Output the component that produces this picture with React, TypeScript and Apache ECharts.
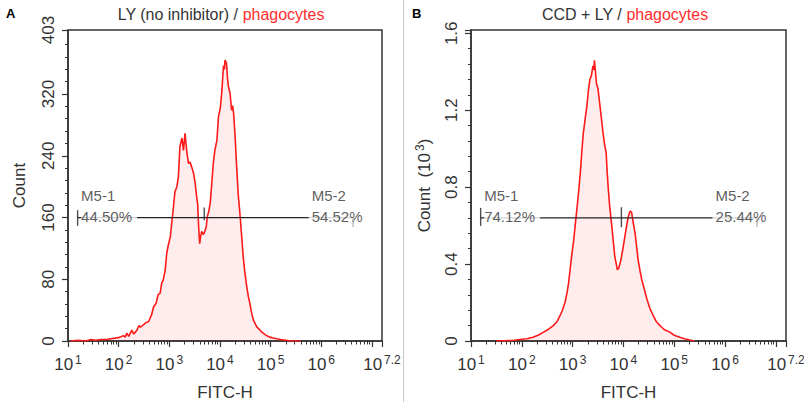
import React, { useEffect, useRef } from 'react';
import * as echarts from 'echarts';

const FONT = '"Liberation Sans", Arial, Helvetica, sans-serif';

// Histogram A: LY (no inhibitor) — bin position as log10(FITC-H), count
const binExpA = [1.05, 1.2, 1.35, 1.45, 1.55, 1.65, 1.76, 1.85, 1.96, 2.03, 2.09, 2.13, 2.16, 2.2, 2.26, 2.3, 2.36, 2.4, 2.43, 2.49, 2.54, 2.59, 2.65, 2.69, 2.74, 2.78, 2.82, 2.85, 2.88, 2.92, 2.95, 2.98, 3.02, 3.04, 3.08, 3.11, 3.15, 3.18, 3.21, 3.25, 3.28, 3.31, 3.35, 3.38, 3.41, 3.45, 3.48, 3.51, 3.54, 3.56, 3.58, 3.6, 3.62, 3.64, 3.67, 3.69, 3.73, 3.75, 3.78, 3.81, 3.84, 3.87, 3.9, 3.94, 3.97, 4.01, 4.04, 4.07, 4.09, 4.1, 4.13, 4.15, 4.17, 4.2, 4.23, 4.25, 4.27, 4.3, 4.33, 4.36, 4.4, 4.43, 4.46, 4.49, 4.53, 4.56, 4.59, 4.62, 4.66, 4.7, 4.73, 4.78, 4.82, 4.86, 4.9, 4.95, 4.99, 5.05, 5.12, 5.2, 5.3, 5.4, 5.6];
const countA = [0, 1, 0, 2, 1, 2, 2, 3, 4, 5, 7, 5, 10, 6, 14, 9, 14, 20, 18, 21, 24, 25, 34, 44, 49, 60, 62, 75, 79, 92, 114, 124, 135, 148, 172, 193, 200, 213, 252, 263, 247, 269, 243, 230, 232, 224, 217, 205, 187, 178, 148, 126, 136, 142, 138, 140, 148, 161, 168, 180, 205, 231, 247, 260, 290, 303, 325, 357, 352, 364, 360, 340, 329, 321, 299, 305, 295, 265, 226, 191, 161, 135, 109, 90, 70, 58, 49, 38, 27, 22, 18, 15, 12, 10, 8, 6, 5, 4, 3, 2, 1, 0, 0];

// Histogram B: CCD + LY — bin position as log10(FITC-H), count in thousands
const binExpB = [1.5, 1.7, 1.85, 1.96, 2.1, 2.22, 2.32, 2.42, 2.52, 2.62, 2.69, 2.75, 2.8, 2.85, 2.89, 2.92, 2.95, 2.98, 3.02, 3.05, 3.09, 3.12, 3.15, 3.18, 3.21, 3.25, 3.28, 3.31, 3.34, 3.37, 3.4, 3.42, 3.43, 3.45, 3.47, 3.5, 3.54, 3.57, 3.6, 3.63, 3.66, 3.68, 3.7, 3.73, 3.77, 3.8, 3.83, 3.86, 3.88, 3.91, 3.95, 3.99, 4.03, 4.07, 4.1, 4.13, 4.16, 4.19, 4.23, 4.26, 4.29, 4.33, 4.36, 4.41, 4.46, 4.52, 4.59, 4.65, 4.72, 4.76, 4.8, 4.84, 4.88, 4.92, 5.0, 5.11, 5.2, 5.31, 5.4];
const countB = [0, 0.002, 0.004, 0.008, 0.012, 0.02, 0.03, 0.045, 0.06, 0.08, 0.1, 0.13, 0.16, 0.2, 0.25, 0.3, 0.37, 0.44, 0.52, 0.6, 0.7, 0.78, 0.87, 0.98, 1.08, 1.16, 1.22, 1.3, 1.36, 1.38, 1.43, 1.41, 1.46, 1.4, 1.34, 1.31, 1.22, 1.15, 1.08, 1.02, 0.98, 0.88, 0.8, 0.7, 0.6, 0.52, 0.44, 0.4, 0.37, 0.38, 0.42, 0.48, 0.545, 0.61, 0.65, 0.675, 0.67, 0.62, 0.56, 0.49, 0.42, 0.36, 0.32, 0.27, 0.22, 0.17, 0.13, 0.1, 0.08, 0.07, 0.06, 0.055, 0.05, 0.045, 0.03, 0.02, 0.012, 0.005, 0];

// Gates (marker M5-1 / M5-2): left edge, divider, right edge as log10(FITC-H)
const gateNames = ['M5-1', 'M5-2'];
const gateExpA = [1.19, 3.69, 6.63];
const gateExpB = [1.19, 3.96, 6.63];
const gateLevelA = 160;
const gateLevelB = 0.64;
const gatePctA = [44.5, 54.52];
const gatePctB = [74.12, 25.44];

// Axes
const xMinExp = 1;
const xMaxExp = 7.2;
const xLabelExp = [1, 2, 3, 4, 5, 6, 7.2];
const xMajorTickExp = [1, 2, 3, 4, 5, 6, 7, 7.2];
const yLabelsA = [0, 80, 160, 240, 320, 403];
const yMaxA = 403;
const yMinorStepA = 16;
const yLabelsB = [0, 0.4, 0.8, 1.2, 1.6];
const yMaxB = 1.617;
const yMinorStepB = 0.08;

const titleA = ['LY (no inhibitor) / ', 'phagocytes'];
const titleB = ['CCD + LY / ', 'phagocytes'];
const panelLetters = ['A', 'B'];
const xName = 'FITC-H';

const TXT = '#333';
const AX = '#333';
const X_MAX = Math.pow(10, xMaxExp);
const edge = (e: number) => (e >= xMaxExp ? X_MAX * (1 - 1e-9) : Math.pow(10, e));

function xMinorValues() {
  const out: number[] = [];
  for (let n = xMinExp; n < Math.ceil(xMaxExp); n++) {
    for (let k = 2; k <= 9; k++) {
      const v = k * Math.pow(10, n);
      if (v < X_MAX) out.push(v);
    }
  }
  return out;
}

function yMinorValues(max: number, step: number, majors: number[]) {
  const out: number[] = [];
  for (let i = 1; i * step < max; i++) {
    const v = Math.round(i * step * 1000) / 1000;
    if (!majors.some((m) => Math.abs(m - v) < 1e-6) && i % 5 !== 0) out.push(v);
  }
  return out;
}

function buildXAxes(g: number) {
  return [
    {
      type: 'log',
      logBase: 10,
      gridIndex: g,
      position: 'bottom',
      min: Math.pow(10, xMinExp),
      max: X_MAX,
      axisLine: { show: true, onZero: false, lineStyle: { color: AX, width: 1.5 } },
      axisTick: { show: true, customValues: xMajorTickExp.map(edge), length: 6, lineStyle: { color: AX, width: 1.2 } },
      axisLabel: {
        show: true,
        customValues: xLabelExp.map(edge),
        margin: 13,
        formatter: (v: number) => {
          const e = Math.round(Math.log10(v) * 10) / 10;
          return '{b|10}{s|' + e + '}';
        },
        rich: {
          b: { fontSize: 17, lineHeight: 20, color: TXT, fontFamily: FONT },
          s: { fontSize: 12, lineHeight: 12, color: TXT, fontFamily: FONT, verticalAlign: 'top', padding: [0, 0, 0, 2] },
        },
      },
      splitLine: { show: false },
      minorTick: { show: false },
      minorSplitLine: { show: false },
      name: xName,
      nameLocation: 'middle',
      nameGap: 43,
      nameTextStyle: { fontSize: 17, color: TXT, fontFamily: FONT },
    },
    {
      type: 'log',
      logBase: 10,
      gridIndex: g,
      position: 'bottom',
      min: Math.pow(10, xMinExp),
      max: X_MAX,
      axisLine: { show: false },
      axisTick: { show: true, customValues: xMinorValues(), length: 3.5, lineStyle: { color: AX, width: 1 } },
      axisLabel: { show: false },
      splitLine: { show: false },
    },
  ];
}

function buildYAxes(g: number, max: number, labels: number[], step: number, name: any, nameRich: any, nameGap: number) {
  const majors = labels.slice();
  if (majors[majors.length - 1] < max - 1e-9) majors.push(max);
  return [
    {
      type: 'value',
      gridIndex: g,
      position: 'left',
      min: 0,
      max,
      axisLine: { show: true, onZero: false, lineStyle: { color: AX, width: 1.5 } },
      axisTick: { show: true, customValues: majors, length: 6, lineStyle: { color: AX, width: 1.2 } },
      axisLabel: { show: true, customValues: labels, rotate: 90, margin: 11, fontSize: 17, color: TXT, fontFamily: FONT },
      splitLine: { show: false },
      name,
      nameLocation: 'middle',
      nameRotate: 90,
      nameGap,
      nameTextStyle: { fontSize: 17, color: TXT, fontFamily: FONT, rich: nameRich },
    },
    {
      type: 'value',
      gridIndex: g,
      position: 'left',
      min: 0,
      max,
      axisLine: { show: false },
      axisTick: { show: true, customValues: yMinorValues(max, step, labels), length: 3, lineStyle: { color: AX, width: 1 } },
      axisLabel: { show: false },
      splitLine: { show: false },
    },
  ];
}

function curveSeries(ax: number, exps: number[], vals: number[]) {
  return {
    type: 'line',
    xAxisIndex: ax,
    yAxisIndex: ax,
    data: exps.map((e, i) => [Math.pow(10, e), vals[i]]),
    symbol: 'none',
    showSymbol: false,
    lineStyle: { color: '#ff1a1a', width: 1.6 },
    areaStyle: { color: 'rgba(255,0,0,0.1)' },
    z: 2,
    silent: true,
  };
}

function gateSeries(ax: number, exps: number[], level: number, pcts: number[], tickStyle: { size: number[]; off: number[] }[]) {
  const pts = exps.map((e) => [Math.pow(10, e), level]);
  const pctText = pcts.map((p) => p.toFixed(2) + '%');
  const richL = {
    n: { fontSize: 15, lineHeight: 21, color: TXT, fontFamily: FONT },
    p: { fontSize: 15, lineHeight: 21, color: TXT, fontFamily: FONT, backgroundColor: '#fff', padding: [0, 5, 0, 0] },
  };
  const richR = {
    n: { fontSize: 15, lineHeight: 21, color: TXT, fontFamily: FONT, padding: [0, 0, 0, 3] },
    p: { fontSize: 15, lineHeight: 21, color: TXT, fontFamily: FONT, backgroundColor: '#fff', padding: [0, 0, 0, 3] },
  };
  return [
    {
      type: 'line',
      xAxisIndex: ax,
      yAxisIndex: ax,
      data: [pts[0], pts[2]],
      symbol: 'none',
      lineStyle: { color: '#222', width: 1.2 },
      z: 3,
      silent: true,
    },
    {
      type: 'scatter',
      xAxisIndex: ax,
      yAxisIndex: ax,
      symbolSize: 1,
      itemStyle: { color: 'rgba(0,0,0,0)' },
      z: 4,
      silent: true,
      data: [
        {
          value: pts[0],
          label: {
            show: true,
            position: 'right',
            distance: 3,
            offset: [0, -12],
            formatter: '{n|' + gateNames[0] + '}\n{p|' + pctText[0] + '}',
            rich: richL,
          },
        },
        {
          value: pts[2],
          label: {
            show: true,
            position: 'right',
            distance: 0,
            offset: [-45, -12],
            formatter: '{n|' + gateNames[1] + '}\n{p|' + pctText[1] + '}',
            rich: richR,
          },
        },
      ],
    },
    {
      type: 'scatter',
      xAxisIndex: ax,
      yAxisIndex: ax,
      symbol: 'rect',
      z: 5,
      silent: true,
      data: pts.map((p, i) => ({
        value: p,
        symbolSize: tickStyle[i].size,
        symbolOffset: tickStyle[i].off,
        itemStyle: { color: i === 2 ? '#999' : '#222' },
      })),
    },
  ];
}

function titleText(x: number, parts: string[]) {
  return {
    type: 'text',
    x,
    y: 14,
    style: {
      text: '{d|' + parts[0] + '}{r|' + parts[1] + '}',
      align: 'center',
      verticalAlign: 'middle',
      rich: {
        d: { fill: TXT, color: TXT, fontSize: 16, fontFamily: FONT },
        r: { fill: '#ff2d2d', color: '#ff2d2d', fontSize: 16, fontFamily: FONT },
      },
    },
  };
}

export default function App() {
  const ref = useRef<HTMLDivElement>(null);
  useEffect(() => {
    document.body.style.margin = '0';
    if (!ref.current) return;
    const chart = echarts.init(ref.current, undefined, { renderer: 'svg' });
    const option: any = {
      animation: false,
      backgroundColor: '#fff',
      grid: [
        { left: 68, top: 30, width: 314, height: 311, show: true, borderColor: AX, borderWidth: 1.5, backgroundColor: 'transparent', outerBoundsMode: 'none', containLabel: false },
        { left: 471, top: 30, width: 315, height: 311, show: true, borderColor: AX, borderWidth: 1.5, backgroundColor: 'transparent', outerBoundsMode: 'none', containLabel: false },
      ],
      xAxis: [...buildXAxes(0), ...buildXAxes(1)],
      yAxis: [
        ...buildYAxes(0, yMaxA, yLabelsA, yMinorStepA, 'Count', undefined, 40),
        ...buildYAxes(1, yMaxB, yLabelsB, yMinorStepB, '{a|Count  (10}{s|3}{a|)}', {
          a: { fontSize: 17, lineHeight: 20, color: TXT, fontFamily: FONT },
          s: { fontSize: 12, lineHeight: 12, color: TXT, fontFamily: FONT, verticalAlign: 'top', padding: [0, 0, 0, 2] },
        }, 37),
      ],
      series: [
        curveSeries(0, binExpA, countA),
        curveSeries(2, binExpB, countB),
        ...gateSeries(0, gateExpA, gateLevelA, gatePctA, [
          { size: [1.4, 15.6], off: [0, 0.5] },
          { size: [1.4, 12.7], off: [0, -3.7] },
          { size: [1.2, 9.3], off: [0, 4.7] },
        ]),
        ...gateSeries(2, gateExpB, gateLevelB, gatePctB, [
          { size: [1.4, 18], off: [0, -1] },
          { size: [1.4, 20], off: [0, -0.7] },
          { size: [1.2, 9.3], off: [0, 4.7] },
        ]),
      ],
      graphic: [
        { type: 'line', shape: { x1: 403.5, y1: 0, x2: 403.5, y2: 402 }, style: { stroke: '#c8c8c8', lineWidth: 1 } },
        { type: 'text', x: 6, y: 7, style: { text: panelLetters[0], fill: '#000', font: 'bold 13px ' + FONT, align: 'left', verticalAlign: 'top' } },
        { type: 'text', x: 412, y: 7, style: { text: panelLetters[1], fill: '#000', font: 'bold 13px ' + FONT, align: 'left', verticalAlign: 'top' } },
        titleText(221, titleA),
        titleText(625, titleB),
      ],
    };
    chart.setOption(option);
    return () => chart.dispose();
  }, []);
  return <div ref={ref} style={{ width: 804, height: 402 }} />;
}
